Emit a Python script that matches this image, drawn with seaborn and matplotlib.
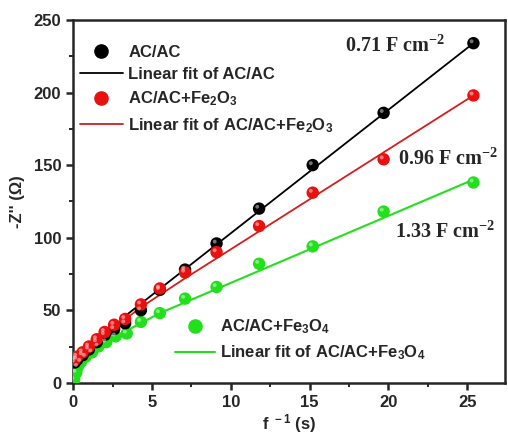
import matplotlib
matplotlib.use("Agg")
import matplotlib.pyplot as plt
import seaborn as sns
import pandas as pd
from matplotlib.lines import Line2D

# data: f^-1 (s) vs -Z'' (ohm)
ac_x = [0.1, 0.25, 0.6, 1.0, 1.5, 2.0, 2.6, 3.3, 4.3, 5.5, 7.1, 9.1, 11.8, 15.2, 19.7, 25.4]
ac_y = [14, 16, 19, 23, 28, 33, 37, 41, 50, 64, 78, 96, 120, 150, 186, 234]

fe2_x = [0.1, 0.25, 0.6, 1.0, 1.5, 2.0, 2.6, 3.3, 4.3, 5.5, 7.1, 9.1, 11.8, 15.2, 19.7, 25.4]
fe2_y = [16, 18, 21, 25, 30, 35, 40, 44, 54, 65, 76, 90, 108, 131, 154, 198]

fe3_x = [0.06, 0.2, 0.3, 0.5, 0.8, 1.2, 1.6, 2.1, 2.7, 3.4, 4.3, 5.5, 7.1, 9.1, 11.8, 15.2, 19.7, 25.4]
fe3_y = [2, 7, 11, 14.5, 18, 21, 25, 28, 32, 34, 42, 48, 58, 66, 82, 94, 118, 138]

# fitted lines (vertices)
fit_ac_x = [3.3, 25.4]
fit_ac_y = [46, 234]
fit_fe2_x = [0.0, 0.6, 1.5, 2.6, 4.3, 7.1, 25.4]
fit_fe2_y = [13, 20, 29, 38, 52, 72, 198]
fit_fe3_x = [0.0, 0.2, 0.5, 1.2, 2.1, 3.4, 5.5, 25.4]
fit_fe3_y = [0, 7, 13, 20, 27, 36, 48, 140]

sns.set_theme(style="ticks")
plt.rcParams["font.family"] = ["Liberation Sans", "DejaVu Sans"]
plt.rcParams["font.weight"] = "bold"
plt.rcParams["mathtext.default"] = "regular"

fig = plt.figure(figsize=(5.08, 4.34), dpi=100)
ax = fig.add_axes([0.144, 0.118, 0.85, 0.836])

black, red, green = "#000000", "#e8110f", "#22e01c"

sns.lineplot(x=fit_ac_x, y=fit_ac_y, color=black, lw=1.3, ax=ax, estimator=None, sort=True)
sns.lineplot(x=fit_fe2_x, y=fit_fe2_y, color="#d41e1e", lw=1.3, ax=ax, estimator=None, sort=True)
sns.lineplot(x=fit_fe3_x, y=fit_fe3_y, color=green, lw=1.5, ax=ax, estimator=None, sort=True)

df = pd.concat([
    pd.DataFrame({"x": ac_x, "y": ac_y, "s": "ac"}),
    pd.DataFrame({"x": fe3_x, "y": fe3_y, "s": "fe3"}),
    pd.DataFrame({"x": fe2_x, "y": fe2_y, "s": "fe2"}),
])
for key, col in [("fe3", green), ("ac", black), ("fe2", red)]:
    d = df[df.s == key]
    sns.scatterplot(data=d, x="x", y="y", color=col, s=80, edgecolor="none", ax=ax, zorder=3)
    # little highlight for the glossy look
    ax.scatter(d.x - 0.12, d.y + 1.3, s=8, color="white", alpha=0.45, edgecolor="none", zorder=4)

ax.set_xlim(0, 27.4)
ax.set_ylim(0, 250)
ax.set_xticks([0, 5, 10, 15, 20, 25])
ax.set_xticks([2.5, 7.5, 12.5, 17.5, 22.5], minor=True)
ax.set_yticks([0, 50, 100, 150, 200, 250])
ax.set_yticks([25, 75, 125, 175, 225], minor=True)
ax.tick_params(which="major", length=5, width=1.8, labelsize=12, direction="out")
ax.tick_params(which="minor", length=3, width=1.4, direction="out")
for sp in ax.spines.values():
    sp.set_linewidth(1.8)
for lab in ax.get_xticklabels() + ax.get_yticklabels():
    lab.set_fontweight("bold")

ax.set_xlabel("f$^{\\ -1}$ (s)", fontsize=12, fontweight="bold", labelpad=2)
ax.set_ylabel("-Z'' (Ω)", fontsize=12, fontweight="bold", labelpad=6)

tfont = dict(family="Liberation Serif", fontsize=14.5, fontweight="bold")
ax.text(20.4, 232, "0.71 F cm$^{-2}$", ha="center", va="center", **tfont)
ax.text(23.8, 154, "0.96 F cm$^{-2}$", ha="center", va="center", **tfont)
ax.text(23.6, 104, "1.33 F cm$^{-2}$", ha="center", va="center", **tfont)

mk = dict(marker="o", linestyle="none", markersize=9.5)
h1 = [Line2D([], [], color=black, **mk), Line2D([], [], color=black, lw=1.3),
      Line2D([], [], color=red, **mk), Line2D([], [], color="#d41e1e", lw=1.3)]
l1 = ["AC/AC", "Linear fit of AC/AC", "AC/AC+Fe$_2$O$_3$", "Linear fit of AC/AC+Fe$_2$O$_3$"]
leg1 = ax.legend(h1, l1, loc="upper left", bbox_to_anchor=(0.0, 0.95), frameon=False,
                 fontsize=12, handlelength=2.6, handletextpad=0.3, labelspacing=0.45,
                 borderaxespad=0)
for t in leg1.get_texts():
    t.set_fontweight("bold")
ax.add_artist(leg1)

h2 = [Line2D([], [], color=green, **mk), Line2D([], [], color=green, lw=1.5)]
l2 = ["AC/AC+Fe$_3$O$_4$", "Linear fit of AC/AC+Fe$_3$O$_4$"]
leg2 = ax.legend(h2, l2, loc="center left", bbox_to_anchor=(0.236, 0.118), frameon=False,
                 fontsize=12, handlelength=2.4, handletextpad=0.3, labelspacing=0.45,
                 borderaxespad=0, borderpad=0)
for t in leg2.get_texts():
    t.set_fontweight("bold")

fig.savefig("out.png", dpi=100)
